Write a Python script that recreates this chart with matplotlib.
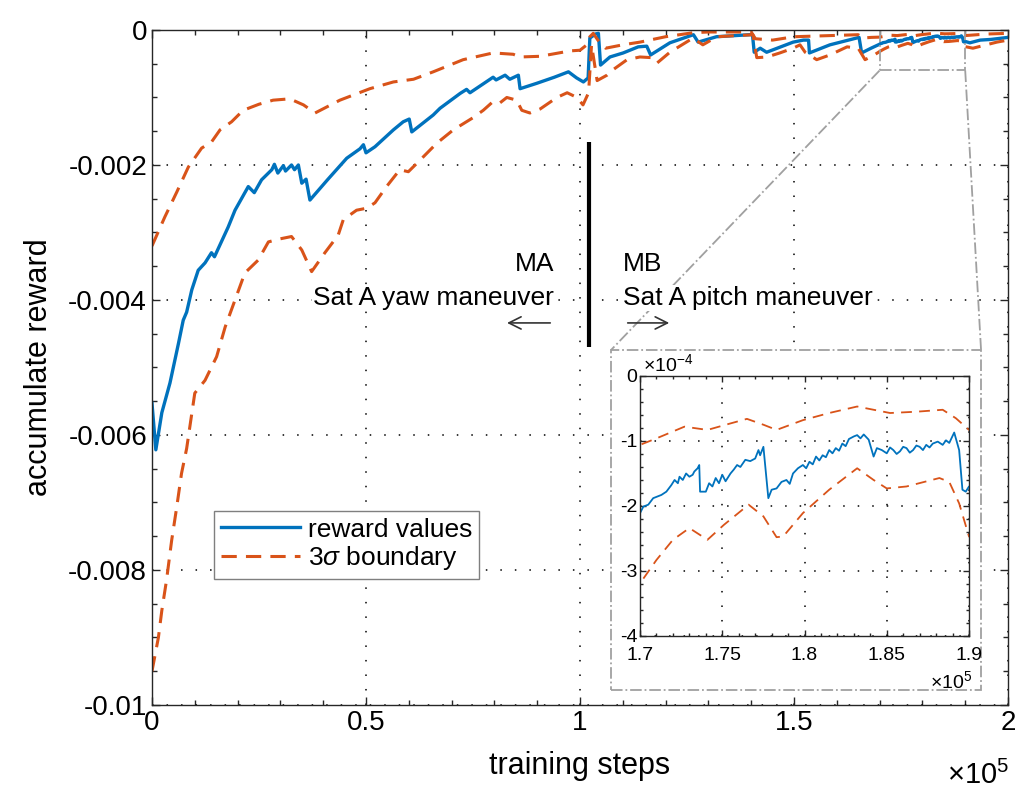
import numpy as np
import matplotlib.pyplot as plt
from matplotlib.patches import Rectangle
from matplotlib.lines import Line2D
from matplotlib.ticker import FuncFormatter, MultipleLocator

plt.rcParams['font.family'] = ['Liberation Sans', 'DejaVu Sans']
plt.rcParams['mathtext.fontset'] = 'custom'
plt.rcParams['mathtext.rm'] = 'Liberation Sans'
plt.rcParams['mathtext.it'] = 'Liberation Sans:italic'

blue_c = '#0072BD'
orange_c = '#D95319'

# inset part, x in 1e5 steps, y in 1e-4
in_x = [1.700, 1.702, 1.705, 1.708, 1.710, 1.713, 1.716, 1.719, 1.721, 1.723, 1.724, 1.726,
        1.728, 1.730, 1.732, 1.733, 1.735, 1.736, 1.7365, 1.740, 1.742, 1.744, 1.746, 1.748,
        1.750, 1.752, 1.755, 1.757, 1.759, 1.761, 1.764, 1.767, 1.770, 1.772, 1.773, 1.775,
        1.778, 1.780, 1.783, 1.786, 1.789, 1.791, 1.793, 1.796, 1.799, 1.801, 1.803, 1.805,
        1.807, 1.809, 1.811, 1.813, 1.815, 1.817, 1.819, 1.821, 1.823, 1.825, 1.827, 1.830,
        1.832, 1.834, 1.836, 1.839, 1.842, 1.844, 1.847, 1.850, 1.852, 1.854, 1.856, 1.858,
        1.860, 1.862, 1.864, 1.866, 1.868, 1.870, 1.872, 1.874, 1.876, 1.878, 1.881, 1.884,
        1.886, 1.888, 1.891, 1.894, 1.896, 1.898, 1.900]
in_reward = [-2.11, -2.01, -1.98, -1.88, -1.86, -1.83, -1.78, -1.68, -1.60, -1.65, -1.55, -1.60,
             -1.50, -1.55, -1.52, -1.47, -1.42, -1.37, -1.78, -1.78, -1.65, -1.70, -1.57, -1.65,
             -1.52, -1.62, -1.50, -1.44, -1.37, -1.40, -1.29, -1.31, -1.27, -1.14, -1.22, -1.09,
             -1.88, -1.75, -1.73, -1.63, -1.60, -1.66, -1.50, -1.42, -1.37, -1.42, -1.32, -1.36,
             -1.24, -1.30, -1.22, -1.25, -1.14, -1.19, -1.11, -1.15, -1.04, -1.08, -0.97, -0.93,
             -0.91, -0.96, -0.90, -0.98, -1.24, -1.11, -1.14, -1.19, -1.10, -1.14, -1.20, -1.16,
             -1.09, -1.11, -1.18, -1.14, -1.07, -1.09, -1.14, -1.06, -1.10, -1.04, -1.01, -1.06,
             -0.99, -1.03, -0.87, -1.14, -1.75, -1.78, -1.70]
in_up_x = [1.700, 1.710, 1.727, 1.741, 1.755, 1.765, 1.775, 1.783, 1.799, 1.815, 1.832, 1.842,
           1.852, 1.868, 1.884, 1.892, 1.900]
in_up = [-1.06, -0.96, -0.78, -0.83, -0.73, -0.66, -0.75, -0.83, -0.68, -0.57, -0.47, -0.52,
         -0.57, -0.55, -0.52, -0.65, -0.83]
in_lo_x = [1.700, 1.710, 1.720, 1.730, 1.741, 1.751, 1.766, 1.775, 1.783, 1.787, 1.799, 1.815,
           1.832, 1.842, 1.850, 1.862, 1.882, 1.888, 1.894, 1.900]
in_lo = [-3.19, -2.83, -2.52, -2.34, -2.52, -2.29, -1.98, -2.16, -2.48, -2.47, -2.11, -1.75,
         -1.42, -1.60, -1.73, -1.70, -1.57, -1.63, -1.96, -2.47]

# full run, x in 1e5 steps
rew_x = [0.0, 0.009, 0.023, 0.042, 0.062, 0.073, 0.081, 0.093, 0.108, 0.124, 0.139, 0.146,
         0.178, 0.194, 0.225, 0.239, 0.256, 0.28, 0.286, 0.294, 0.307, 0.312, 0.326, 0.333,
         0.342, 0.35, 0.36, 0.369, 0.41, 0.455, 0.486, 0.494, 0.5, 0.521, 0.564, 0.587,
         0.601, 0.607, 0.657, 0.673, 0.72, 0.735, 0.743, 0.797, 0.804, 0.825, 0.836, 0.856,
         0.86, 0.899, 0.94, 0.973, 0.992, 1.008, 1.019, 1.023, 1.036, 1.043, 1.048, 1.07,
         1.101, 1.136, 1.156, 1.165, 1.21, 1.265, 1.276, 1.319, 1.397, 1.403, 1.407, 1.421,
         1.436, 1.498, 1.522, 1.534, 1.536, 1.584, 1.646, 1.652, 1.658, 1.68]
rew_y = [-0.00553, -0.00622, -0.00567, -0.00523, -0.00464, -0.0043, -0.00418, -0.00385,
         -0.00356, -0.00345, -0.0033, -0.00336, -0.00292, -0.00267, -0.00232, -0.00241,
         -0.00222, -0.00207, -0.00199, -0.00212, -0.00201, -0.00209, -0.002, -0.00207,
         -0.002, -0.00227, -0.00221, -0.00252, -0.00222, -0.0019, -0.00176, -0.0017,
         -0.00182, -0.00173, -0.00148, -0.00136, -0.00132, -0.00151, -0.00126, -0.00116,
         -0.00094, -0.00088, -0.00093, -0.0007, -0.00074, -0.00067, -0.00073, -0.00067,
         -0.00087, -0.00079, -0.0007, -0.00062, -0.00071, -0.00077, -0.00071, -0.00012,
         -0.00006, -0.00005, -0.00052, -0.0004, -0.00034, -0.00025, -0.00024, -0.00037,
         -0.00019, -0.00007, -0.00018, -0.0001, -0.00007, -0.00007, -0.00033, -0.00027,
         -0.00033, -0.00018, -0.00015, -0.00015, -0.00034, -0.00022, -0.00012, -0.00011,
         -0.00034, -0.00027]
rew_tail_x = [1.911, 1.935, 1.96, 2.0]
rew_tail_y = [-0.00019, -0.00015, -0.00014, -0.00011]

up_x = [0.0, 0.03, 0.058, 0.085, 0.116, 0.139, 0.159, 0.186, 0.213, 0.25, 0.283, 0.322,
        0.354, 0.381, 0.439, 0.509, 0.564, 0.611, 0.657, 0.727, 0.797, 0.844, 0.86, 0.907,
        0.977, 1.0, 1.016, 1.023, 1.031, 1.045, 1.06, 1.1, 1.14, 1.2, 1.265, 1.3, 1.4, 1.41,
        1.45, 1.5, 1.6, 1.65, 1.66, 1.68]
up_y = [-0.0032, -0.00277, -0.0024, -0.00203, -0.00175, -0.00166, -0.00148, -0.00136,
        -0.00119, -0.0011, -0.00104, -0.00102, -0.00111, -0.00123, -0.00104, -0.00087,
        -0.00077, -0.00073, -0.00062, -0.00044, -0.00034, -0.00036, -0.0004, -0.00039,
        -0.00031, -0.0003, -0.00022, -0.0001, -0.00005, -0.00018, -0.00027, -0.00022,
        -0.00018, -0.0001, -0.00004, -0.00003, -0.00003, -0.00013, -0.00015, -0.0001,
        -0.00008, -0.00007, -0.00012, -0.00011]
up_tail_x = [1.95, 2.0]
up_tail_y = [-0.00006, -0.00005]

lo_x = [0.0, 0.015, 0.023, 0.034, 0.046, 0.058, 0.069, 0.081, 0.1, 0.124, 0.151, 0.171,
        0.194, 0.217, 0.248, 0.272, 0.295, 0.326, 0.35, 0.373, 0.404, 0.435, 0.447, 0.478,
        0.502, 0.521, 0.548, 0.579, 0.599, 0.626, 0.665, 0.704, 0.75, 0.774, 0.797, 0.813,
        0.829, 0.852, 0.864, 0.883, 0.907, 0.946, 0.97, 0.993, 1.007, 1.02, 1.027, 1.04,
        1.063, 1.077, 1.11, 1.14, 1.168, 1.18, 1.21, 1.264, 1.287, 1.32, 1.404, 1.413,
        1.437, 1.467, 1.498, 1.514, 1.526, 1.553, 1.584, 1.624, 1.65, 1.666, 1.685]
lo_y = [-0.0095, -0.009, -0.0086, -0.00815, -0.00756, -0.00706, -0.00657, -0.0062, -0.00538,
        -0.00519, -0.00484, -0.0044, -0.004, -0.0036, -0.00341, -0.00314, -0.0031, -0.00306,
        -0.00326, -0.00358, -0.0033, -0.00304, -0.00281, -0.00267, -0.00264, -0.00256,
        -0.00232, -0.00207, -0.0021, -0.00193, -0.00168, -0.00148, -0.0013, -0.00119,
        -0.00106, -0.00108, -0.001, -0.00104, -0.00119, -0.00123, -0.00117, -0.001, -0.00093,
        -0.001, -0.00111, -0.00093, -0.00022, -0.00075, -0.00067, -0.00059, -0.00044, -0.0004,
        -0.00041, -0.00049, -0.00033, -0.00012, -0.00022, -0.0001, -0.00007, -0.00041, -0.0004,
        -0.00034, -0.00027, -0.00022, -0.00033, -0.00044, -0.00037, -0.00025, -0.00027,
        -0.00044, -0.00038]
lo_tail_x = [1.918, 1.974, 2.0]
lo_tail_y = [-0.00027, -0.00018, -0.00015]

# stitch the zoomed part into the full curves
steps = np.array(rew_x + in_x + rew_tail_x) * 1e5
reward = np.array(rew_y + [v * 1e-4 for v in in_reward] + rew_tail_y)
up_steps = np.array(up_x + in_up_x + up_tail_x) * 1e5
upper = np.array(up_y + [v * 1e-4 for v in in_up] + up_tail_y)
lo_steps = np.array(lo_x + in_lo_x + lo_tail_x) * 1e5
lower = np.array(lo_y + [v * 1e-4 for v in in_lo] + lo_tail_y)

fig = plt.figure(figsize=(10.29, 7.93), dpi=100)
ax = fig.add_axes([0.1477, 0.111, 0.8319, 0.8512])


def style_axes(a, fs, major_len, minor_len):
    a.tick_params(which='both', direction='in', top=True, right=True, labelsize=fs,
                  color='#262626', width=1.0)
    a.tick_params(which='major', length=major_len)
    a.tick_params(which='minor', length=minor_len)
    for s in a.spines.values():
        s.set_color('#262626')
        s.set_linewidth(1.0)
    a.grid(True, which='major', color='k', linestyle=(0, (1, 8.5)), linewidth=1.1)


ax.plot(steps, reward, color=blue_c, lw=2.4, label='reward values')
ax.plot(up_steps, upper, color=orange_c, lw=2.2, dashes=(5, 3), label=r'3$\sigma$ boundary')
ax.plot(lo_steps, lower, color=orange_c, lw=2.2, dashes=(5, 3))

ax.set_xlim(0, 2e5)
ax.set_ylim(-0.01, 0)
ax.xaxis.set_major_locator(MultipleLocator(0.5e5))
ax.xaxis.set_minor_locator(MultipleLocator(0.1e5))
ax.yaxis.set_major_locator(MultipleLocator(0.002))
ax.yaxis.set_minor_locator(MultipleLocator(0.0005))
ax.xaxis.set_major_formatter(FuncFormatter(lambda v, p: f"{v / 1e5:g}"))
ax.yaxis.set_major_formatter(FuncFormatter(lambda v, p: f"{v:g}"))
style_axes(ax, 20, 6, 3.5)
ax.set_xlabel('training steps', fontsize=22, labelpad=11)
ax.set_ylabel('accumulate reward', fontsize=22, labelpad=10)
fig.text(0.981, 0.022, r'$\times10^{5}$', fontsize=21, ha='right', va='center')

ax.legend(loc='lower left', bbox_to_anchor=(0.0724, 0.1867), borderaxespad=0, fontsize=19,
          fancybox=False, framealpha=1, edgecolor='#7f7f7f', handlelength=3.0,
          handletextpad=0.3, borderpad=0.25, labelspacing=0.1)

# maneuver switch
ax.plot([1.021e5, 1.021e5], [-0.00166, -0.0047], color='k', lw=3, solid_capstyle='butt')
bb = dict(facecolor='white', edgecolor='none', pad=1)
ax.text(0.94e5, -0.00347, 'MA', fontsize=19, ha='right', va='center', bbox=bb, zorder=3)
ax.text(0.94e5, -0.00397, 'Sat A yaw maneuver', fontsize=19, ha='right', va='center',
        bbox=bb, zorder=3)
ax.text(1.10e5, -0.00347, 'MB', fontsize=19, ha='left', va='center', bbox=bb, zorder=3)
ax.text(1.10e5, -0.00397, 'Sat A pitch maneuver', fontsize=19, ha='left', va='center',
        bbox=bb, zorder=3)
arr = dict(arrowstyle='->', color='#333333', lw=1.2, mutation_scale=22)
ax.annotate('', xy=(0.823e5, -0.00434), xytext=(0.937e5, -0.00434), arrowprops=arr)
ax.annotate('', xy=(1.215e5, -0.00434), xytext=(1.105e5, -0.00434), arrowprops=arr)

# zoom box and connectors
zc = '#a0a0a0'
ax.add_patch(Rectangle((1.7e5, -0.0006), 0.2e5, 0.0006, fill=False, edgecolor=zc,
                       lw=1.3, linestyle='-.', zorder=2.5))
box_l, box_b, box_r, box_t = 0.5938, 0.1299, 0.9534, 0.5586
ax.add_patch(Rectangle((box_l, box_b), box_r - box_l, box_t - box_b, transform=fig.transFigure,
                       facecolor='white', edgecolor=zc, lw=1.3, linestyle='-.',
                       clip_on=False, zorder=4))
fig.canvas.draw()
to_fig = ax.transData + fig.transFigure.inverted()
p_l = to_fig.transform((1.7e5, -0.0006))
p_r = to_fig.transform((1.9e5, -0.0006))
ax.add_line(Line2D([p_l[0], box_l], [p_l[1], box_t], transform=fig.transFigure, color=zc,
                   lw=1.3, linestyle='-.', clip_on=False, zorder=2.5))
ax.add_line(Line2D([p_r[0], box_r], [p_r[1], box_t], transform=fig.transFigure, color=zc,
                   lw=1.3, linestyle='-.', clip_on=False, zorder=2.5))

# inset
axi = fig.add_axes([0.622, 0.198, 0.3197, 0.3279])
axi.plot(steps, reward, color=blue_c, lw=1.3)
axi.plot(up_steps, upper, color=orange_c, lw=1.3, dashes=(6, 4))
axi.plot(lo_steps, lower, color=orange_c, lw=1.3, dashes=(6, 4))
axi.set_xlim(1.7e5, 1.9e5)
axi.set_ylim(-4e-4, 0)
axi.xaxis.set_major_locator(MultipleLocator(0.05e5))
axi.xaxis.set_minor_locator(MultipleLocator(0.01e5))
axi.yaxis.set_major_locator(MultipleLocator(1e-4))
axi.yaxis.set_minor_locator(MultipleLocator(0.2e-4))
axi.xaxis.set_major_formatter(FuncFormatter(lambda v, p: f"{v / 1e5:g}"))
axi.yaxis.set_major_formatter(FuncFormatter(lambda v, p: f"{round(v * 1e4, 6):g}"))
style_axes(axi, 14, 4, 2.5)
axi.tick_params(axis='x', pad=8)
axi.tick_params(axis='y', pad=2)
axi.text(0.01, 1.045, r'$\times10^{-4}$', transform=axi.transAxes, fontsize=14,
         ha='left', va='center')
axi.text(1.01, -0.175, r'$\times10^{5}$', transform=axi.transAxes, fontsize=14,
         ha='right', va='center')

fig.savefig('out.png', dpi=100)
